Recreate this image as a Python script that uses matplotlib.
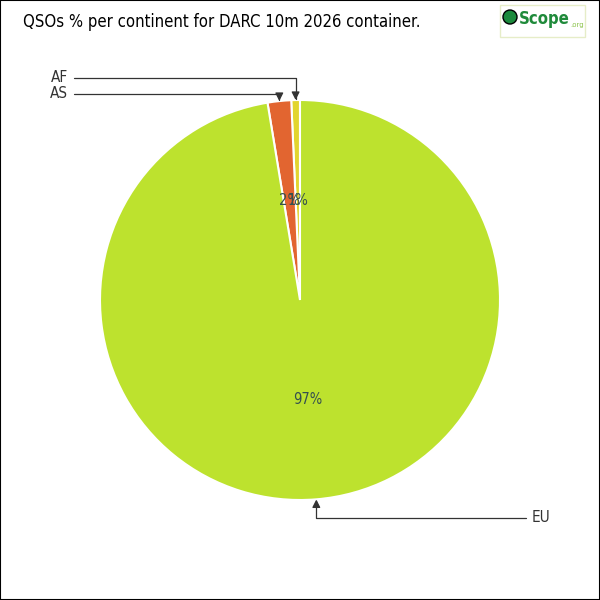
import matplotlib
matplotlib.use("Agg")
import matplotlib.pyplot as plt
import numpy as np
from matplotlib.patches import Rectangle, Circle

continents = ["AF", "AS", "EU"]
shares = [0.7, 1.9, 97.4]
colors = ["#e2d52e", "#e26530", "#bde22e"]
title = "QSOs % per continent for DARC 10m 2026 container."

narrow = ["DejaVu Sans"]

fig = plt.figure(figsize=(6, 6), dpi=100)
fig.patch.set_facecolor("white")
fig.add_artist(Rectangle((0, 0), 1, 1, transform=fig.transFigure, fill=False,
                         edgecolor="black", linewidth=1.5))

ax = fig.add_axes([100/600, 100/600, 400/600, 400/600])
wedges, _, autotexts = ax.pie(shares, colors=colors, startangle=90, counterclock=True,
                              autopct="%.0f%%", pctdistance=0.5, radius=1,
                              wedgeprops=dict(edgecolor="white", linewidth=1.5),
                              textprops=dict(color="#35504f", fontsize=10.5, family=narrow,
                                             fontstretch="condensed"))
ax.set_xlim(-1, 1)
ax.set_ylim(-1, 1)
ax.set_aspect("equal")
ax.axis("off")

label_pos = {"AF": (-1.16, 1.11, "right"), "AS": (-1.16, 1.03, "right"), "EU": (1.16, -1.09, "left")}
for w, name in zip(wedges, continents):
    mid = np.deg2rad((w.theta1 + w.theta2) / 2)
    tip = (np.cos(mid) * w.r, np.sin(mid) * w.r)
    tx, ty, ha = label_pos[name]
    ax.annotate(name, xy=tip, xytext=(tx, ty), ha=ha, va="center",
                fontsize=11, color="#333333", family=narrow, fontstretch="condensed",
                fontweight="light",
                arrowprops=dict(arrowstyle="-|>", color="#333333", lw=0.9,
                                connectionstyle="angle,angleA=0,angleB=90,rad=0",
                                shrinkA=2, shrinkB=0, mutation_scale=12),
                annotation_clip=False)

fig.text(23/600, 1 - 22/600, title, fontsize=12, family=narrow, fontstretch="condensed",
         color="black", ha="left", va="center")

# logo
fig.add_artist(Rectangle((500/600, 1 - 37/600), 85/600, 32/600, transform=fig.transFigure,
                         fill=False, edgecolor="#e6edc8", linewidth=1))
fig.add_artist(Circle((510/600, 1 - 17/600), 7/600, transform=fig.transFigure,
                      facecolor="#1c8a3c", edgecolor="black", linewidth=1))
fig.text(519/600, 1 - 19/600, "Scope", fontsize=12, color="#1f8a3a", family=narrow,
         fontstretch="condensed", ha="left", va="center", fontweight="bold")
fig.text(570/600, 1 - 25/600, ".org", fontsize=5, color="#8bc34a", family=narrow,
         ha="left", va="center")

fig.savefig("out.png", dpi=100, facecolor="white")
